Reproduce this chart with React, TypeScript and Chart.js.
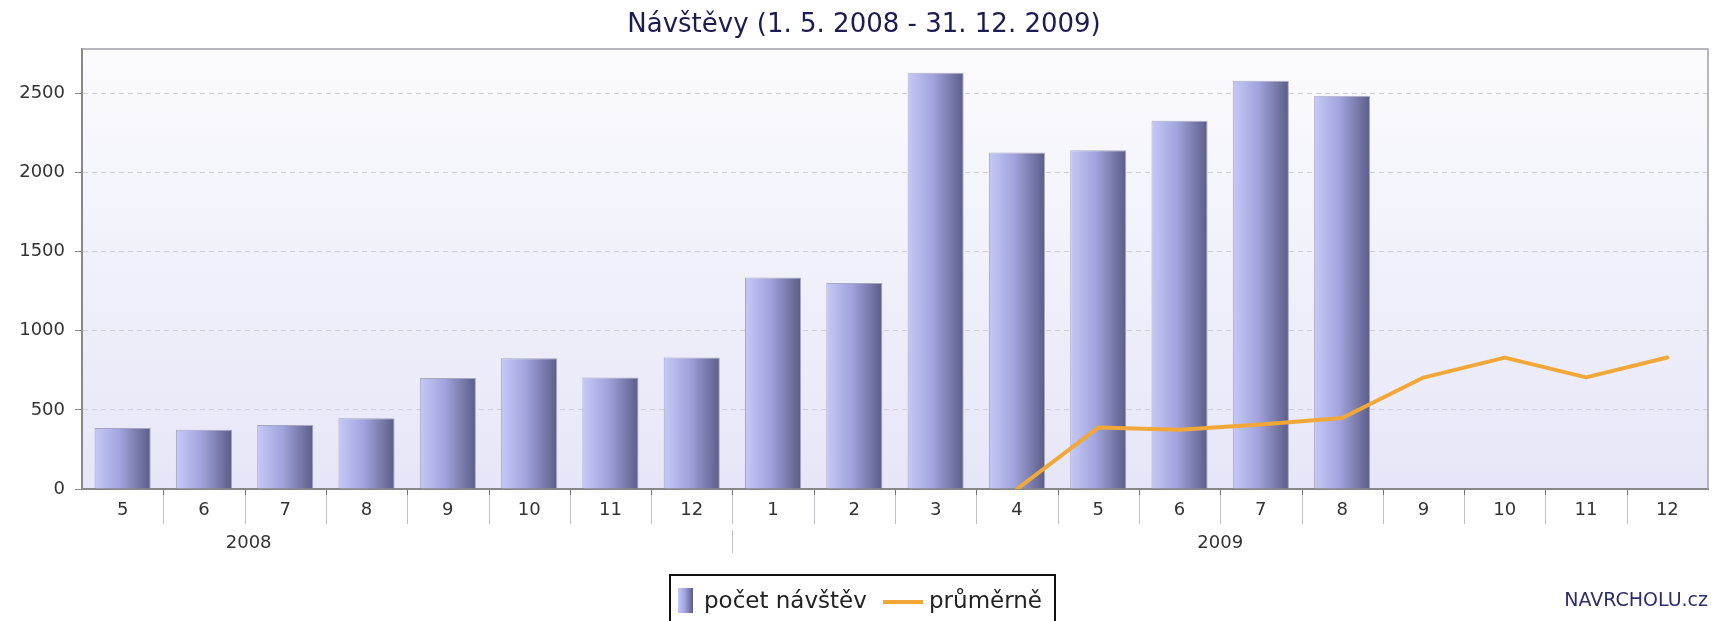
import React, { useEffect, useRef } from "react";
import { Chart, registerables } from "chart.js";

Chart.register(...registerables);

const categories = ["5", "6", "7", "8", "9", "10", "11", "12", "1", "2", "3", "4", "5", "6", "7", "8", "9", "10", "11", "12"];
const visits = [385, 374, 405, 447, 702, 826, 705, 831, 1337, 1302, 2630, 2126, 2140, 2327, 2580, 2485, null, null, null, null];
const average = [null, null, null, null, null, null, null, null, null, null, null, 0, 388, 375, 407, 449, 704, 830, 705, 831];
const years = [
  { label: "2008", at: 1.55 },
  { label: "2009", at: 13.5 },
];
const yearBoundary = 7.5;
const yTicks = [0, 500, 1000, 1500, 2000, 2500];
const titleText = "Návštěvy (1. 5. 2008 - 31. 12. 2009)";
const seriesNames = ["počet návštěv", "průměrně"];
const watermark = "NAVRCHOLU.cz";

const FONT = '"DejaVu Sans", sans-serif';
const W = 1713;
const H = 621;
const BAR_PCT = 0.69;

function barGradient(ctx: CanvasRenderingContext2D, x0: number, x1: number) {
  const g = ctx.createLinearGradient(x0, 0, x1, 0);
  g.addColorStop(0, "#c6c9f6");
  g.addColorStop(0.45, "#a1a4dd");
  g.addColorStop(1, "#5b5c87");
  return g;
}

export default function App() {
  const ref = useRef<HTMLCanvasElement | null>(null);

  useEffect(() => {
    const canvas = ref.current;
    if (!canvas) return;
    document.body.style.margin = "0";

    const decor = {
      id: "decor",
      beforeDraw(chart: any) {
        const { ctx, chartArea: a } = chart;
        ctx.save();
        const g = ctx.createLinearGradient(0, a.top, 0, a.bottom);
        g.addColorStop(0, "#fbfbfe");
        g.addColorStop(1, "#e6e6f8");
        ctx.fillStyle = g;
        ctx.fillRect(a.left, a.top, a.right - a.left, a.bottom - a.top);
        ctx.restore();
      },
      afterDraw(chart: any) {
        const { ctx, chartArea: a } = chart;
        const xs = chart.scales.x;
        ctx.save();
        ctx.strokeStyle = "#a0a0a8";
        ctx.lineWidth = 1.5;
        ctx.beginPath();
        ctx.moveTo(a.left, a.top);
        ctx.lineTo(a.right, a.top);
        ctx.lineTo(a.right, a.bottom);
        ctx.stroke();

        for (let i = 1; i < categories.length; i++) {
          const x = Math.round(xs.getPixelForValue(i - 0.5)) + 0.5;
          ctx.strokeStyle = "#c0c0c4";
          ctx.lineWidth = 1;
          ctx.beginPath();
          ctx.moveTo(x, a.bottom + 1);
          ctx.lineTo(x, a.bottom + 35);
          ctx.stroke();
          ctx.strokeStyle = "#777";
          ctx.beginPath();
          ctx.moveTo(x, a.bottom + 1);
          ctx.lineTo(x, a.bottom + 6);
          ctx.stroke();
        }
        const yx = Math.round(xs.getPixelForValue(yearBoundary)) + 0.5;
        ctx.strokeStyle = "#c0c0c4";
        ctx.beginPath();
        ctx.moveTo(yx, a.bottom + 41);
        ctx.lineTo(yx, a.bottom + 64);
        ctx.stroke();

        ctx.fillStyle = "#333";
        ctx.font = "18px " + FONT;
        ctx.textAlign = "center";
        ctx.textBaseline = "middle";
        years.forEach((y) => {
          ctx.fillText(y.label, xs.getPixelForValue(y.at), a.bottom + 54);
        });

        ctx.fillStyle = "#1c1c50";
        ctx.font = "26px " + FONT;
        ctx.textAlign = "center";
        ctx.textBaseline = "alphabetic";
        ctx.fillText(titleText, 864, 32);

        const lx = 670, ly = 575, lw = 385;
        ctx.strokeStyle = "#111";
        ctx.lineWidth = 2;
        ctx.strokeRect(lx, ly, lw, 60);
        ctx.fillStyle = barGradient(ctx, 678, 693);
        ctx.fillRect(678, 588, 15, 25);
        ctx.fillStyle = "#222";
        ctx.font = "23px " + FONT;
        ctx.textAlign = "left";
        ctx.textBaseline = "alphabetic";
        ctx.fillText(seriesNames[0], 704, 608);
        ctx.strokeStyle = "#f2a838";
        ctx.lineWidth = 4;
        ctx.beginPath();
        ctx.moveTo(883, 602);
        ctx.lineTo(923, 602);
        ctx.stroke();
        ctx.fillText(seriesNames[1], 929, 608);

        ctx.fillStyle = "#2d2d6e";
        ctx.font = "19px " + FONT;
        ctx.textAlign = "right";
        ctx.textBaseline = "middle";
        ctx.fillText(watermark, 1708, 601);
        ctx.restore();
      },
    };

    const chart = new Chart(canvas, {
      type: "bar",
      data: {
        labels: categories,
        datasets: [
          {
            type: "line",
            label: seriesNames[1],
            data: average,
            borderColor: "#f2a838",
            borderWidth: 4,
            pointRadius: 0,
            tension: 0,
            spanGaps: false,
            order: 0,
            borderCapStyle: "round",
            borderJoinStyle: "round",
          } as any,
          {
            type: "bar",
            label: seriesNames[0],
            data: visits,
            order: 1,
            categoryPercentage: 1,
            barPercentage: BAR_PCT,
            borderWidth: 1,
            borderColor: "rgba(110,110,140,0.55)",
            backgroundColor: (c: any) => {
              const xs = c.chart.scales && c.chart.scales.x;
              if (!xs || c.dataIndex == null) return "#9a9cd2";
              const center = xs.getPixelForValue(c.dataIndex);
              const w = (xs.width / categories.length) * BAR_PCT;
              if (!isFinite(center) || !isFinite(w) || w <= 0) return "#9a9cd2";
              return barGradient(c.chart.ctx, center - w / 2, center + w / 2);
            },
          } as any,
        ],
      },
      options: {
        responsive: false,
        animation: false,
        devicePixelRatio: 1,
        layout: { padding: { left: 0, right: 5, top: 49, bottom: 0 } },
        font: { family: FONT },
        plugins: {
          legend: { display: false },
          title: { display: false },
          tooltip: { enabled: false },
        },
        scales: {
          x: {
            type: "category",
            offset: true,
            grid: { display: false, drawTicks: false, offset: true },
            border: { display: true, color: "#888", width: 2 },
            ticks: {
              color: "#333",
              font: { family: FONT, size: 18 },
              padding: 11,
              maxRotation: 0,
              autoSkip: false,
            },
            afterFit: (s: any) => {
              s.height = H - 489;
            },
          },
          y: {
            type: "linear",
            min: 0,
            max: 2780,
            afterBuildTicks: (s: any) => {
              s.ticks = yTicks.map((v) => ({ value: v }));
            },
            grid: {
              color: "#cfcfd8",
              tickColor: "#888",
              tickLength: 7,
              tickBorderDash: [],
              lineWidth: 1,
            } as any,
            border: { display: true, color: "#888", width: 2, dash: [5, 4] } as any,
            ticks: {
              color: "#333",
              font: { family: FONT, size: 18 },
              padding: 10,
              includeBounds: false,
              callback: (v: any) => String(v),
            },
            afterFit: (s: any) => {
              s.width = 82;
            },
          },
        },
      },
      plugins: [decor],
    });

    return () => chart.destroy();
  }, []);

  return (
    <div style={{ position: "fixed", left: 0, top: 0, width: W, height: H, background: "#fff" }}>
      <canvas ref={ref} width={W} height={H} style={{ display: "block", width: W, height: H }} />
    </div>
  );
}
